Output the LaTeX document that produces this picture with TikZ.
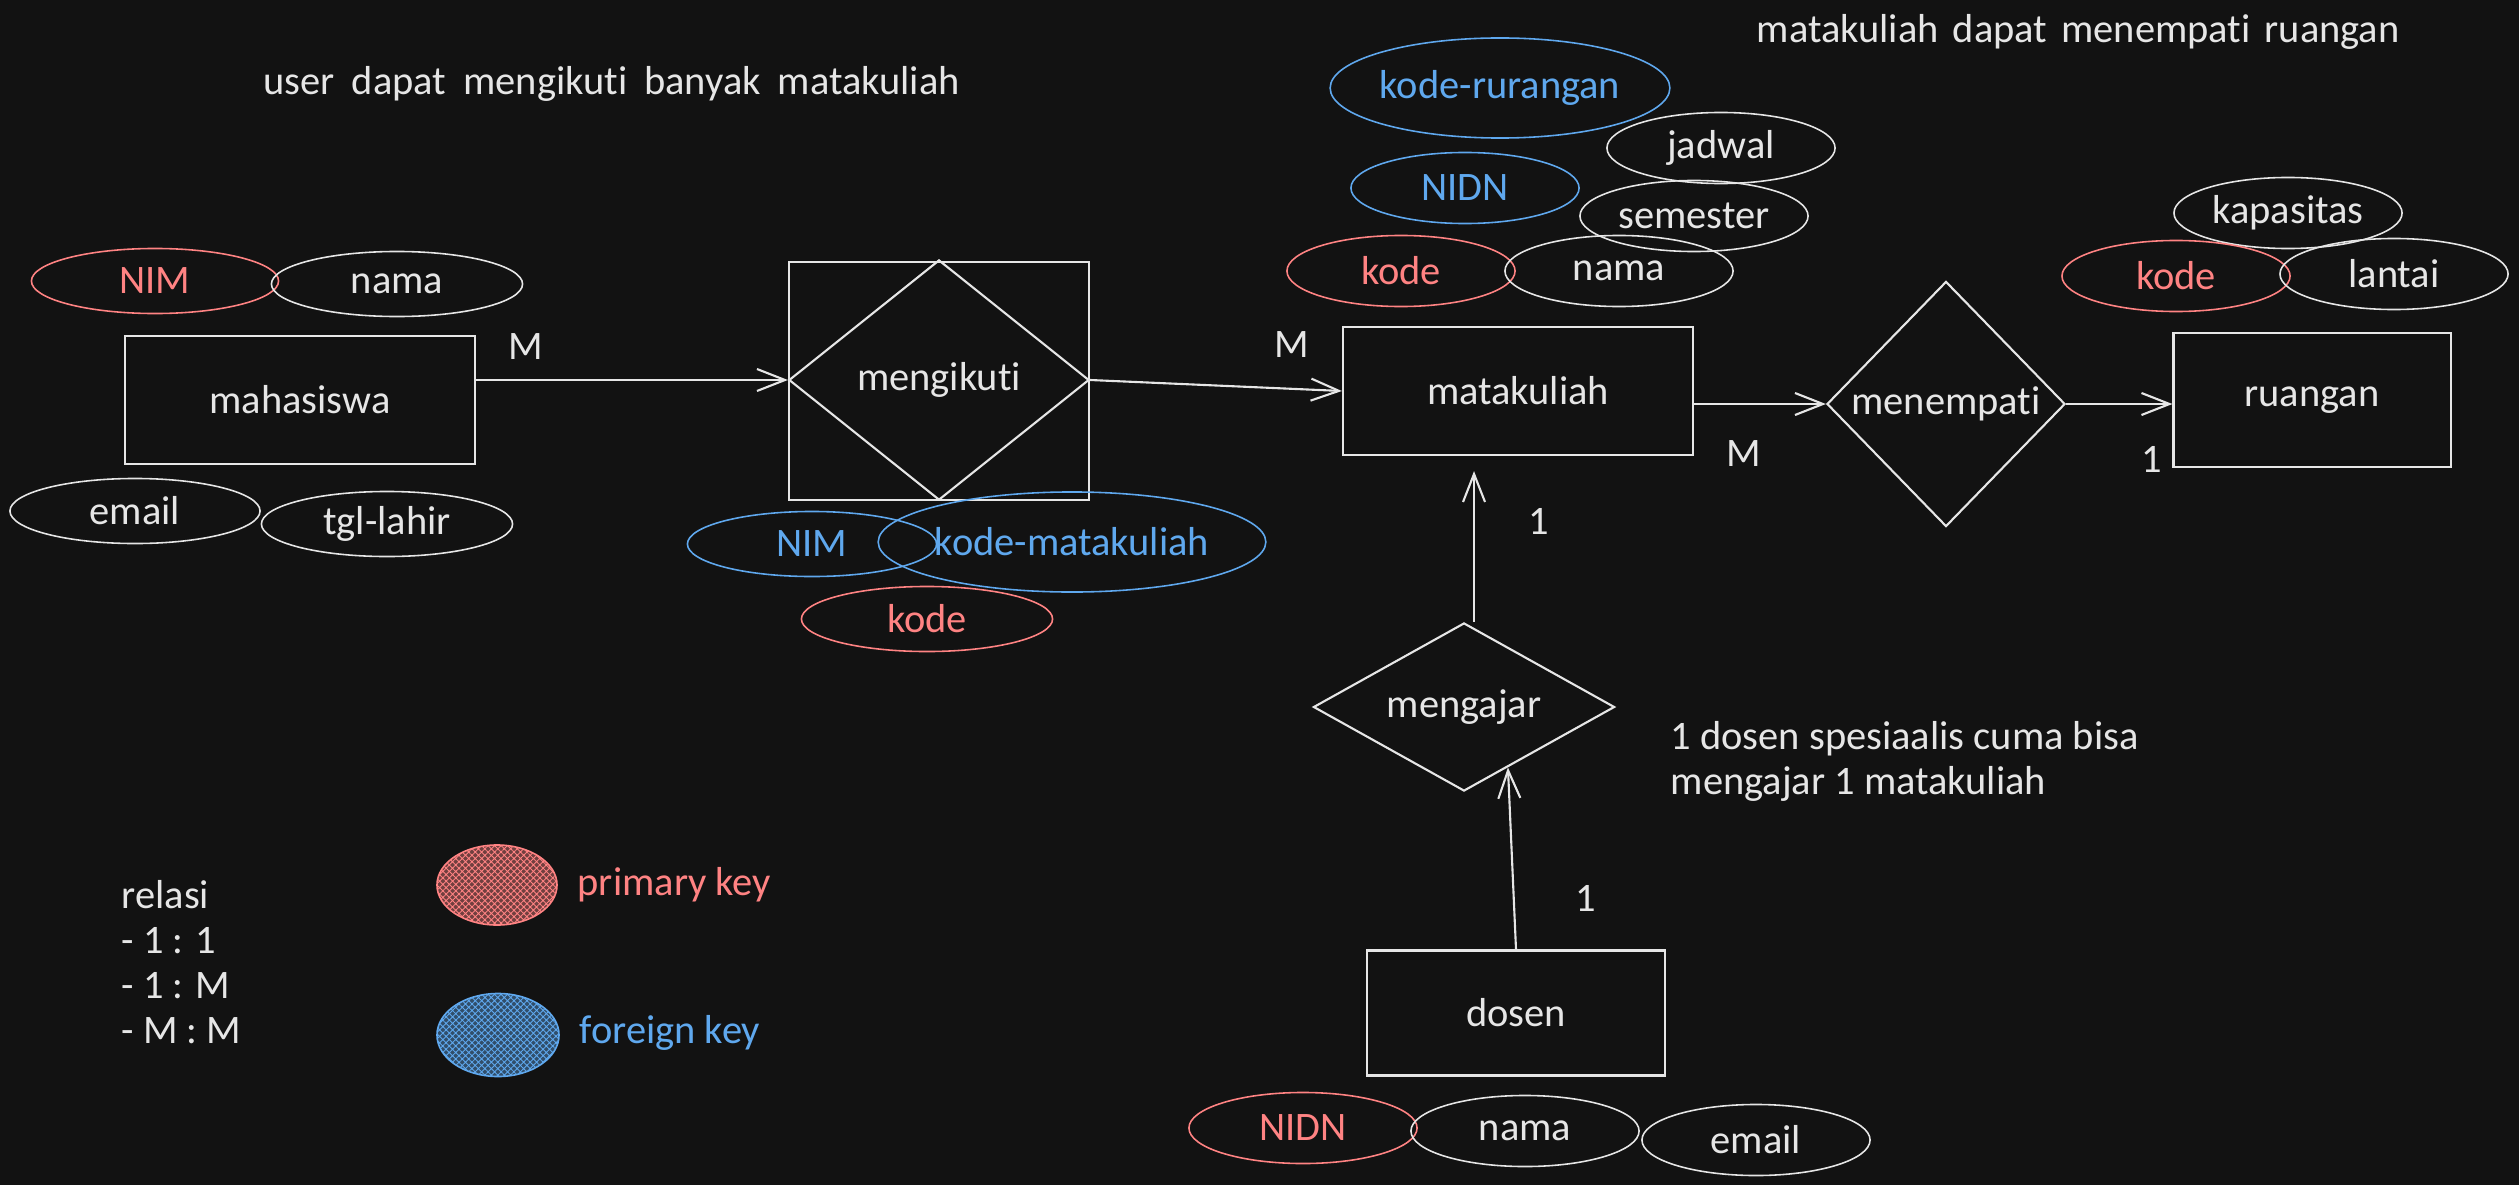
\documentclass[tikz,border=0pt]{standalone}
\usepackage{fontspec}
\setmainfont{Carlito}[Ligatures=NoCommon]
\usetikzlibrary{arrows.meta,shapes.geometric,patterns.meta}
\definecolor{bg}{HTML}{121212}
\definecolor{ink}{HTML}{E6E6E6}
\definecolor{pkred}{HTML}{FF8383}
\definecolor{fkblue}{HTML}{5FA8EE}

\begin{document}
\begin{tikzpicture}[x=.01cm,y=-.01cm,
  every node/.style={text=ink,font=\fontsize{11.5}{12.8}\selectfont},
  ent/.style={draw=ink,line width=.6pt,inner sep=0pt,minimum width=3.5cm,minimum height=1.28cm},
  rel/.style={diamond,draw=ink,line width=.6pt,inner sep=0pt},
  attr/.style={ellipse,draw=ink,line width=.45pt,inner sep=0pt,minimum width=2.28cm,minimum height=.71cm},
  pk/.style={attr,draw=pkred,text=pkred},
  fk/.style={attr,draw=fkblue,text=fkblue},
  link/.style={draw=ink,line width=.6pt,-{Straight Barb[length=2.8mm,width=2.2mm]}},
  txt/.style={inner sep=0pt,align=left}]
  \useasboundingbox (0,0) rectangle (2519,1185);
  \fill[bg] (0,0) rectangle (2519,1185);
  \node[txt,anchor=base west] (note-mhs) at (263,95) {\spaceskip=.42em\relax user dapat mengikuti banyak matakuliah};
  \node[txt,anchor=base west] (note-ruang) at (1756,43) {\spaceskip=.35em\relax matakuliah dapat menempati ruangan};
  \node[txt,anchor=west] (note-dosen) at (1670,761) {1 dosen spesiaalis cuma bisa\\mengajar 1 matakuliah};
  \node[txt,anchor=west] (relasi) at (121,962) {relasi\\- 1 : 1\\- 1 : M\\- M : M};
  % mahasiswa
  \node[ent] (mahasiswa) at (300,400) {mahasiswa};
  \node[pk,minimum width=2.47cm,minimum height=.65cm] (mhs-nim) at (155,281) {NIM};
  \node[attr,minimum width=2.51cm,minimum height=.65cm] (mhs-nama) at (397,284) {nama};
  \node[attr,minimum width=2.5cm,minimum height=.65cm] (mhs-email) at (135,511) {email};
  \node[attr,minimum width=2.51cm,minimum height=.65cm] (mhs-lahir) at (387,524) {tgl-lahir};
  % mengikuti
  \node[ent,minimum width=3cm,minimum height=2.37cm] (mengikuti-box) at (939,381) {};
  \node[rel,minimum width=3cm,minimum height=2.4cm,aspect=1.25] (mengikuti) at (939,380) {mengikuti};
  \node[fk,minimum width=2.49cm,minimum height=.65cm] (ikut-nim) at (812,544) {NIM};
  \node[fk,minimum width=2.95cm,minimum height=1cm] (ikut-mk) at (1072,542) {kode-matakuliah};
  \node[pk,minimum width=2.51cm,minimum height=.65cm] (ikut-kode) at (927,619) {kode};
  % matakuliah
  \node[ent] (matakuliah) at (1518,391) {matakuliah};
  \node[fk,minimum width=2.69cm,minimum height=1cm] (mk-ruang) at (1500,88) {kode-rurangan};
  \node[attr] (mk-jadwal) at (1721,148) {jadwal};
  \node[fk] (mk-nidn) at (1465,188) {NIDN};
  \node[attr] (mk-semester) at (1694,216) {semester};
  \node[pk] (mk-kode) at (1401,271) {kode};
  \node[attr] (mk-nama) at (1619,271) {nama};
  % ruangan
  \node[rel,minimum width=2.38cm,minimum height=2.45cm] (menempati) at (1946,404) {menempati};
  \node[ent,minimum width=2.77cm,minimum height=1.34cm] (ruangan) at (2312,400) {ruangan};
  \node[attr] (r-kapasitas) at (2288,213) {kapasitas};
  \node[pk] (r-kode) at (2176,276) {kode};
  \node[attr] (r-lantai) at (2394,274) {lantai};
  % dosen
  \node[rel,minimum width=3.01cm,minimum height=1.68cm,aspect=1.8] (mengajar) at (1464,707) {mengajar};
  \node[ent,minimum width=2.98cm,minimum height=1.25cm] (dosen) at (1516,1013) {dosen};
  \node[pk] (d-nidn) at (1303,1128) {NIDN};
  \node[attr] (d-nama) at (1525,1131) {nama};
  \node[attr] (d-email) at (1756,1140) {email};
  \draw[link] (mahasiswa.east |- mengikuti.west) -- (mengikuti.west);
  \draw[link] (mengikuti.east) -- (matakuliah.west);
  \draw[link] (matakuliah.east |- menempati.west) -- (menempati.west);
  \draw[link] (menempati.east) -- (ruangan.west |- menempati.east);
  \draw[link,shorten >=1.5mm] ([xshift=1mm]mengajar.north) -- ([xshift=1mm]mengajar.north |- matakuliah.south);
  \draw[link] (dosen.north) -- (mengajar.-54);
  \node (c-mhs) at (526,347) {M};
  \node (c-mk) at (1292,345) {M};
  \node (c-mk2) at (1744,454) {M};
  \node (c-ruang) at (2152,459) {1};
  \node (c-ajar) at (1539,521) {1};
  \node (c-dosen) at (1586,898) {1};
  % legenda
  \node[ellipse,draw=pkred,line width=.45pt,fill=pkred!40!bg,minimum width=1.2cm,minimum height=.8cm,
    postaction={pattern={Hatch[angle=45,distance=1.3pt,line width=.25pt]},pattern color=pkred}] (pk-mark) at (497,885) {};
  \node[ellipse,draw=fkblue,line width=.45pt,fill=fkblue!40!bg,minimum width=1.22cm,minimum height=.83cm,
    postaction={pattern={Hatch[angle=45,distance=1.3pt,line width=.25pt]},pattern color=fkblue}] (fk-mark) at (498,1035) {};
  \node[txt,anchor=base west,text=pkred] (pk-text) at (577,895) {primary key};
  \node[txt,anchor=base west,text=fkblue] (fk-text) at (579,1043) {foreign key};
\end{tikzpicture}
\end{document}
